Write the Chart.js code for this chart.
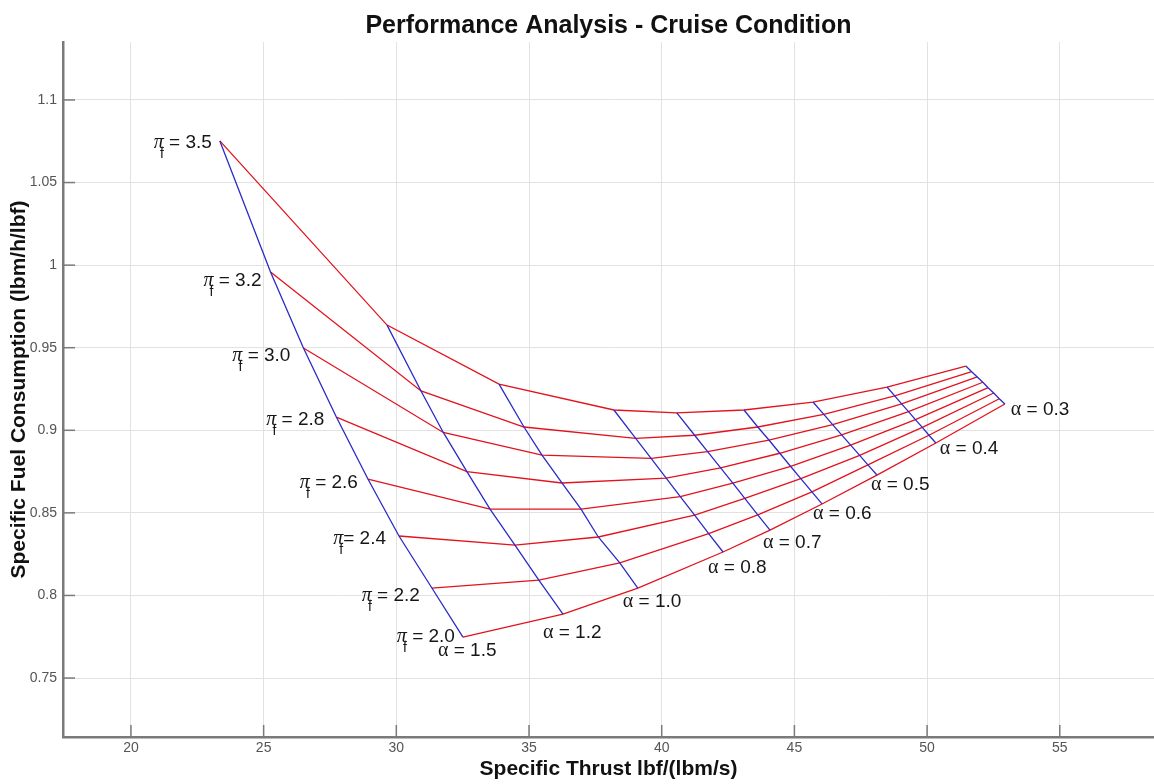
<!DOCTYPE html>
<html>
<head>
<meta charset="utf-8">
<title>Performance Analysis - Cruise Condition</title>
<script src="https://cdn.jsdelivr.net/npm/chart.js@4.4.1/dist/chart.umd.min.js"></script>
<style>
  html, body { margin: 0; padding: 0; background: #fff; }
  canvas { display: block; }
</style>
</head>
<body>
<canvas id="carpet" width="1154" height="784"></canvas>
<script>
// bypass ratio (blue lines) and fan pressure ratio (red lines)
const alphaValues = [1.5, 1.2, 1.0, 0.8, 0.7, 0.6, 0.5, 0.4, 0.3];
const piFanValues = [3.5, 3.2, 3.0, 2.8, 2.6, 2.4, 2.2, 2.0];

// specific thrust / SFC per alpha, in the order of piFanValues
const thrustA15 = [23.35, 25.26, 26.50, 27.74, 28.93, 30.10, 31.34, 32.51];
const sfcA15    = [1.0752, 0.9958, 0.9498, 0.9080, 0.8705, 0.8360, 0.8045, 0.7748];
const thrustA12 = [29.65, 30.93, 31.77, 32.66, 33.53, 34.47, 35.37, 36.28];
const sfcA12    = [0.9637, 0.9238, 0.8987, 0.8750, 0.8523, 0.8305, 0.8093, 0.7887];
const thrustA10 = [33.87, 34.81, 35.49, 36.24, 36.96, 37.61, 38.42, 39.10];
const sfcA10    = [0.9280, 0.9020, 0.8850, 0.8681, 0.8523, 0.8354, 0.8197, 0.8045];
const thrustA08 = [38.20, 39.02, 39.60, 40.17, 40.70, 41.24, 41.77, 42.31];
const sfcA08    = [0.9123, 0.8951, 0.8830, 0.8710, 0.8598, 0.8486, 0.8375, 0.8263];
const thrustA07 = [40.57, 41.24, 41.73, 42.22, 42.68, 43.13, 43.62, 44.08];
const sfcA07    = [0.9105, 0.8970, 0.8871, 0.8772, 0.8680, 0.8588, 0.8488, 0.8396];
const thrustA06 = [43.10, 43.62, 44.04, 44.45, 44.86, 45.24, 45.66, 46.04];
const sfcA06    = [0.9123, 0.9020, 0.8941, 0.8861, 0.8781, 0.8707, 0.8627, 0.8554];
const thrustA05 = [45.70, 46.11, 46.44, 46.78, 47.12, 47.46, 47.77, 48.11];
const sfcA05    = [0.9171, 0.9096, 0.9034, 0.8972, 0.8910, 0.8848, 0.8791, 0.8729];
const thrustA04 = [48.49, 48.78, 49.04, 49.30, 49.56, 49.82, 50.07, 50.33];
const sfcA04    = [0.9262, 0.9208, 0.9160, 0.9113, 0.9065, 0.9018, 0.8970, 0.8923];
const thrustA03 = [51.46, 51.68, 51.89, 52.10, 52.30, 52.51, 52.72, 52.93];
const sfcA03    = [0.9389, 0.9355, 0.9323, 0.9291, 0.9258, 0.9226, 0.9191, 0.9159];

// axis ticks
const xTicks = [20, 25, 30, 35, 40, 45, 50, 55];
const yTicks = [0.75, 0.8, 0.85, 0.9, 0.95, 1, 1.05, 1.1];

// label texts
const piLabelText = [' = 3.5', ' = 3.2', ' = 3.0', ' = 2.8', ' = 2.6', '= 2.4', ' = 2.2', ' = 2.0'];

const thrustByAlpha = [thrustA15, thrustA12, thrustA10, thrustA08, thrustA07, thrustA06, thrustA05, thrustA04, thrustA03];
const sfcByAlpha = [sfcA15, sfcA12, sfcA10, sfcA08, sfcA07, sfcA06, sfcA05, sfcA04, sfcA03];

const RED = '#e3121c';
const BLUE = '#2b2bc6';
const SANS = '"Liberation Sans", Arial, Helvetica, sans-serif';
const SERIF = '"Liberation Serif", "Times New Roman", serif';

// pixel nudges for the text labels (right edge / cap centre vs node)
const piLabelShift = [[-8, 0], [-9, 7], [-13, 6], [-12, 1], [-10, 2], [-13, 1], [-12, 6], [-8, -2]];
const alphaLabelShift = [[-25, 12], [-20, 17], [-15, 12], [-15, 14], [-7, 11], [-9, 8], [-6, 8], [4, 4], [6, 4]];

// constant alpha lines (blue) - listed first so they sit on top
const alphaLines = alphaValues.map((a, i) => ({
    label: 'α = ' + a.toFixed(1),
    data: thrustByAlpha[i].map((t, j) => ({ x: t, y: sfcByAlpha[i][j] })),
    borderColor: BLUE,
    borderWidth: 1.3,
    showLine: true,
    pointRadius: 0,
    tension: 0
}));

// constant fan pressure ratio lines (red)
const piLines = piFanValues.map((p, j) => ({
    label: 'πf = ' + p.toFixed(1),
    data: thrustByAlpha.map((arr, i) => ({ x: arr[j], y: sfcByAlpha[i][j] })),
    borderColor: RED,
    borderWidth: 1.3,
    showLine: true,
    pointRadius: 0,
    tension: 0
}));

// inward tick marks + carpet labels
const carpetPlugin = {
    id: 'carpetPlugin',
    afterDraw(chart) {
        const { ctx, chartArea, scales: { x, y } } = chart;
        ctx.save();

        // matlab style ticks pointing into the plot
        ctx.strokeStyle = '#7a7a7a';
        ctx.lineWidth = 1.5;
        x.ticks.forEach(t => {
            const px = x.getPixelForValue(t.value);
            ctx.beginPath();
            ctx.moveTo(px, chartArea.bottom);
            ctx.lineTo(px, chartArea.bottom - 12);
            ctx.stroke();
        });
        y.ticks.forEach(t => {
            const py = y.getPixelForValue(t.value);
            ctx.beginPath();
            ctx.moveTo(chartArea.left, py);
            ctx.lineTo(chartArea.left + 12, py);
            ctx.stroke();
        });

        ctx.fillStyle = '#161616';
        ctx.textBaseline = 'alphabetic';

        // pi_f labels at the alpha = 1.5 end
        piFanValues.forEach((p, j) => {
            const px = x.getPixelForValue(thrustByAlpha[0][j]);
            const py = y.getPixelForValue(sfcByAlpha[0][j]);
            const right = px + piLabelShift[j][0];
            const base = py + piLabelShift[j][1] + 7;
            ctx.textAlign = 'right';
            ctx.font = '19px ' + SANS;
            const main = piLabelText[j];
            ctx.fillText(main, right, base);
            const edge = right - ctx.measureText(main).width;
            ctx.font = '14px ' + SANS;
            ctx.fillText('f', edge, base + 10);
            ctx.font = 'italic 20px ' + SERIF;
            ctx.fillText('π', edge, base);
        });

        // alpha labels at the pi_f = 2.0 end
        alphaValues.forEach((a, i) => {
            const last = thrustByAlpha[i].length - 1;
            const px = x.getPixelForValue(thrustByAlpha[i][last]);
            const py = y.getPixelForValue(sfcByAlpha[i][last]);
            let left = px + alphaLabelShift[i][0];
            const base = py + alphaLabelShift[i][1] + 7;
            ctx.textAlign = 'left';
            ctx.font = '20px ' + SERIF;
            ctx.fillText('α', left, base);
            left += ctx.measureText('α').width;
            ctx.font = '19px ' + SANS;
            ctx.fillText(' = ' + a.toFixed(1), left, base);
        });

        ctx.restore();
    }
};

const chart = new Chart(document.getElementById('carpet').getContext('2d'), {
    type: 'scatter',
    data: { datasets: [...alphaLines, ...piLines] },
    options: {
        responsive: false,
        animation: false,
        layout: { padding: 0 },
        plugins: {
            legend: { display: false },
            tooltip: { enabled: false },
            title: {
                display: true,
                fullSize: false,
                text: 'Performance Analysis - Cruise Condition',
                color: '#111',
                font: { family: SANS, size: 25, weight: 'bold', lineHeight: 1.2 },
                padding: { top: 11, bottom: 1 }
            }
        },
        scales: {
            x: {
                type: 'linear',
                min: 17.44,
                max: 58.55,
                afterBuildTicks: s => { s.ticks = xTicks.map(v => ({ value: v })); },
                afterFit: s => { s.height = 47; },
                grid: { color: '#e2e2e2', lineWidth: 1, drawTicks: false },
                border: { color: '#7a7a7a', width: 2.5 },
                ticks: {
                    padding: 3,
                    color: '#555',
                    font: { family: SANS, size: 14 },
                    callback: v => String(v)
                },
                title: {
                    display: true,
                    text: 'Specific Thrust lbf/(lbm/s)',
                    color: '#111',
                    font: { family: SANS, size: 21, weight: 'bold', lineHeight: 1.2 },
                    padding: { top: 0, bottom: 2 }
                }
            },
            y: {
                type: 'linear',
                min: 0.7143,
                max: 1.1351,
                afterBuildTicks: s => { s.ticks = yTicks.map(v => ({ value: v })); },
                afterFit: s => { s.width = 63; },
                grid: { color: '#e2e2e2', lineWidth: 1, drawTicks: false },
                border: { color: '#7a7a7a', width: 2.5 },
                ticks: {
                    padding: 6,
                    color: '#555',
                    font: { family: SANS, size: 14 },
                    callback: v => String(v)
                },
                title: {
                    display: true,
                    text: 'Specific Fuel Consumption (lbm/h/lbf)',
                    color: '#111',
                    font: { family: SANS, size: 21, weight: 'bold', lineHeight: 1.2 },
                    padding: { top: 7, bottom: 0 }
                }
            }
        }
    },
    plugins: [carpetPlugin]
});
</script>
</body>
</html>
